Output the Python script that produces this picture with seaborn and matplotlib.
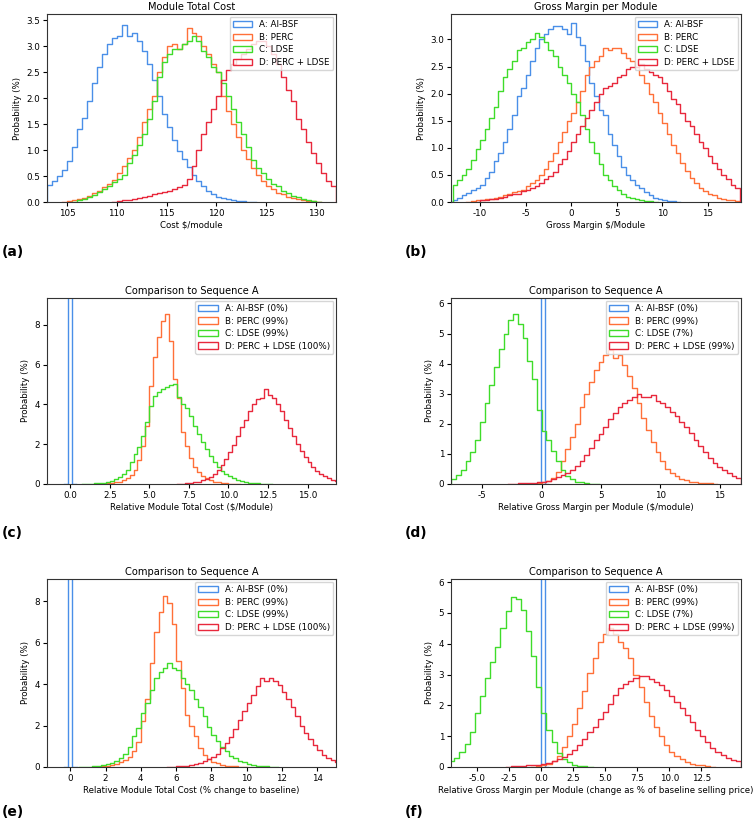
import matplotlib.patches as mpatches
import matplotlib.pyplot as plt
import numpy as np
import pandas as pd
import seaborn as sns

plt.rcParams['font.family'] = ['DejaVu Sans']

### HISTOGRAM DATA (probability % per bin) ###

labels_abs = ['A: Al-BSF', 'B: PERC', 'C: LDSE', 'D: PERC + LDSE']

# (a) module total cost, $/module
cost_width = 0.5
cost_a_start = 103.0
cost_a = [0.32, 0.40, 0.50, 0.62, 0.78, 1.05, 1.40, 1.62, 1.95, 2.30, 2.60, 2.85, 3.05, 3.15, 3.20, 3.40,
          3.20, 3.25, 3.10, 2.90, 2.65, 2.35, 2.05, 1.70, 1.45, 1.20, 0.98, 0.82, 0.68, 0.52, 0.40, 0.30,
          0.22, 0.15, 0.10, 0.07, 0.05, 0.03, 0.02, 0.01, 0.005]
cost_b_start = 105.0
cost_b = [0.02, 0.03, 0.05, 0.08, 0.12, 0.17, 0.22, 0.28, 0.35, 0.42, 0.55, 0.70, 0.85, 1.00, 1.25, 1.55,
          1.80, 2.05, 2.50, 2.80, 3.00, 3.05, 2.95, 3.05, 3.35, 3.25, 3.20, 3.00, 2.85, 2.65, 2.50, 2.05,
          1.75, 1.50, 1.25, 1.00, 0.82, 0.65, 0.52, 0.40, 0.30, 0.25, 0.18, 0.15, 0.10, 0.07, 0.05, 0.04,
          0.02, 0.01]
cost_c_start = 106.0
cost_c = [0.03, 0.06, 0.10, 0.14, 0.20, 0.25, 0.30, 0.38, 0.45, 0.52, 0.75, 0.90, 1.10, 1.30, 1.60, 1.95,
          2.40, 2.70, 2.85, 2.95, 2.95, 3.05, 3.10, 3.20, 3.10, 2.90, 2.80, 2.60, 2.50, 2.30, 2.05, 1.80,
          1.55, 1.30, 1.05, 0.80, 0.65, 0.55, 0.45, 0.35, 0.30, 0.22, 0.18, 0.12, 0.09, 0.06, 0.04, 0.02]
cost_d_start = 110.0
cost_d = [0.02, 0.03, 0.04, 0.05, 0.07, 0.09, 0.12, 0.15, 0.18, 0.20, 0.22, 0.25, 0.28, 0.32, 0.45, 0.70,
          1.00, 1.30, 1.55, 1.80, 2.05, 2.35, 2.55, 2.65, 2.75, 2.85, 2.95, 3.05, 3.10, 3.10, 3.00, 2.85,
          2.65, 2.40, 2.15, 1.95, 1.60, 1.40, 1.15, 0.95, 0.75, 0.55, 0.40, 0.30]

# (b) gross margin per module, $/module
margin_width = 0.5
margin_a_start = -13.0
margin_a = [0.04, 0.08, 0.12, 0.17, 0.22, 0.26, 0.32, 0.45, 0.55, 0.75, 0.90, 1.10, 1.35, 1.60, 1.95, 2.10,
            2.35, 2.60, 2.85, 3.00, 3.10, 3.20, 3.25, 3.25, 3.20, 3.10, 3.30, 3.05, 2.90, 2.60, 2.20, 1.95,
            1.70, 1.60, 1.25, 1.05, 0.85, 0.65, 0.50, 0.40, 0.32, 0.25, 0.18, 0.12, 0.08, 0.05, 0.03, 0.02,
            0.01]
margin_b_start = -11.0
margin_b = [0.02, 0.03, 0.04, 0.05, 0.06, 0.08, 0.10, 0.12, 0.15, 0.18, 0.20, 0.23, 0.30, 0.35, 0.40, 0.50,
            0.60, 0.75, 0.90, 1.10, 1.30, 1.50, 1.65, 1.85, 2.05, 2.35, 2.50, 2.60, 2.70, 2.85, 2.80, 2.85,
            2.85, 2.75, 2.65, 2.60, 2.50, 2.35, 2.20, 2.00, 1.85, 1.65, 1.45, 1.25, 1.05, 0.90, 0.72, 0.58,
            0.45, 0.35, 0.25, 0.20, 0.15, 0.12, 0.08, 0.06, 0.04, 0.03, 0.02]
margin_c_start = -13.0
margin_c = [0.32, 0.40, 0.50, 0.60, 0.78, 0.98, 1.15, 1.35, 1.55, 1.75, 2.05, 2.30, 2.45, 2.60, 2.80, 2.85,
            2.95, 3.00, 3.12, 3.05, 2.95, 2.80, 2.70, 2.50, 2.35, 2.20, 2.00, 1.85, 1.60, 1.35, 1.10, 0.90,
            0.70, 0.50, 0.40, 0.30, 0.22, 0.15, 0.10, 0.07, 0.05, 0.03, 0.02, 0.01]
margin_d_start = -10.0
margin_d = [0.03, 0.04, 0.05, 0.06, 0.08, 0.10, 0.12, 0.15, 0.15, 0.20, 0.22, 0.25, 0.30, 0.35, 0.42, 0.48,
            0.55, 0.70, 0.80, 0.95, 1.10, 1.25, 1.40, 1.55, 1.70, 1.85, 2.00, 2.10, 2.15, 2.20, 2.30, 2.35,
            2.45, 2.50, 2.50, 2.55, 2.45, 2.40, 2.35, 2.30, 2.20, 2.05, 1.90, 1.80, 1.65, 1.50, 1.40, 1.25,
            1.10, 1.00, 0.85, 0.72, 0.60, 0.50, 0.42, 0.32, 0.25]

labels_cost_rel = ['A: Al-BSF (0%)', 'B: PERC (99%)', 'C: LDSE (99%)', 'D: PERC + LDSE (100%)']
labels_margin_rel = ['A: Al-BSF (0%)', 'B: PERC (99%)', 'C: LDSE (7%)', 'D: PERC + LDSE (99%)']

# (c) relative module total cost, $/module
rcost_width = 0.25
rcost_a_start = -0.125
rcost_a = [100.0]
rcost_b_start = 2.0
rcost_b = [0.02, 0.03, 0.05, 0.08, 0.12, 0.20, 0.30, 0.45, 0.70, 1.20, 1.90, 2.90, 4.95, 6.40, 7.40, 8.20,
           8.55, 7.20, 5.30, 4.30, 2.60, 1.90, 1.30, 0.85, 0.60, 0.40, 0.28, 0.18, 0.12, 0.08, 0.05, 0.03,
           0.02, 0.01]
rcost_c_start = 1.0
rcost_c = [0.01, 0.02, 0.03, 0.05, 0.07, 0.10, 0.15, 0.25, 0.35, 0.50, 0.70, 1.10, 1.50, 1.85, 2.40, 3.10,
           3.90, 4.40, 4.60, 4.80, 4.90, 5.00, 5.05, 4.35, 4.00, 3.80, 3.40, 2.90, 2.50, 2.10, 1.75, 1.40,
           1.10, 0.85, 0.65, 0.50, 0.38, 0.28, 0.20, 0.14, 0.10, 0.07, 0.05, 0.03, 0.02, 0.01]
rcost_d_start = 7.0
rcost_d = [0.02, 0.03, 0.05, 0.08, 0.12, 0.18, 0.25, 0.35, 0.50, 0.70, 0.95, 1.25, 1.60, 1.95, 2.40, 2.85,
           3.20, 3.65, 4.00, 4.25, 4.30, 4.80, 4.45, 4.30, 4.00, 3.65, 3.20, 2.80, 2.40, 2.00, 1.65, 1.35,
           1.10, 0.85, 0.65, 0.50, 0.38, 0.28, 0.20, 0.14]

# (d) relative gross margin per module, $/module
rmargin_width = 0.4
rmargin_a_start = -0.05
rmargin_a = [100.0]
rmargin_b_start = -0.4
rmargin_b = [0.03, 0.05, 0.10, 0.20, 0.40, 0.75, 1.15, 1.55, 2.00, 2.55, 3.00, 3.40, 3.80, 4.05, 4.30, 4.45,
             4.20, 4.30, 3.95, 3.60, 3.20, 2.70, 2.20, 1.80, 1.40, 1.05, 0.75, 0.50, 0.35, 0.25, 0.17, 0.12,
             0.08, 0.05, 0.04, 0.03, 0.02]
rmargin_c_start = -7.6
rmargin_c = [0.18, 0.30, 0.48, 0.75, 1.05, 1.45, 2.05, 2.70, 3.30, 3.90, 4.50, 5.00, 5.45, 5.65, 5.30, 4.85,
             4.10, 3.50, 2.45, 1.75, 1.45, 1.10, 0.75, 0.45, 0.28, 0.15, 0.08, 0.05, 0.03, 0.01]
rmargin_d_start = -2.4
rmargin_d = [0.01, 0.02, 0.02, 0.03, 0.04, 0.05, 0.08, 0.10, 0.15, 0.22, 0.30, 0.38, 0.48, 0.60, 0.78, 0.98,
             1.20, 1.45, 1.65, 1.90, 2.15, 2.35, 2.55, 2.70, 2.80, 2.90, 3.00, 2.90, 2.90, 2.95, 2.75, 2.70,
             2.55, 2.40, 2.25, 2.05, 1.90, 1.70, 1.45, 1.25, 1.05, 0.85, 0.70, 0.55, 0.45, 0.35, 0.28, 0.20]

# (e) relative module total cost, % change to baseline
pcost_width = 0.25
pcost_a_start = -0.125
pcost_a = [100.0]
pcost_b_start = 1.5
pcost_b = [0.02, 0.04, 0.06, 0.10, 0.15, 0.25, 0.35, 0.50, 0.75, 1.20, 2.20, 3.30, 5.00, 6.50, 7.50, 8.25,
           7.90, 6.90, 5.10, 3.80, 2.50, 2.00, 1.50, 0.90, 0.60, 0.40, 0.25, 0.17, 0.10, 0.07, 0.04, 0.03,
           0.02]
pcost_c_start = 0.75
pcost_c = [0.01, 0.02, 0.04, 0.06, 0.09, 0.13, 0.20, 0.30, 0.45, 0.65, 0.95, 1.50, 1.90, 2.60, 3.10, 3.70,
           4.30, 4.60, 4.80, 5.00, 4.80, 4.70, 4.30, 4.00, 3.70, 3.30, 2.90, 2.45, 1.95, 1.55, 1.25, 0.95,
           0.75, 0.55, 0.42, 0.30, 0.22, 0.15, 0.10, 0.07, 0.05, 0.03, 0.02]
pcost_d_start = 5.75
pcost_d = [0.02, 0.03, 0.05, 0.07, 0.10, 0.15, 0.20, 0.28, 0.38, 0.50, 0.65, 0.90, 1.15, 1.45, 1.85, 2.25,
           2.70, 3.10, 3.50, 3.90, 4.30, 4.15, 4.30, 4.15, 3.95, 3.60, 3.30, 2.90, 2.45, 2.00, 1.65, 1.35,
           1.05, 0.80, 0.60, 0.45, 0.33, 0.24]

# (f) relative gross margin per module, change as % of baseline selling price
pmargin_width = 0.4
pmargin_a_start = -0.05
pmargin_a = [100.0]
pmargin_b_start = -0.4
pmargin_b = [0.03, 0.05, 0.10, 0.18, 0.35, 0.65, 1.00, 1.40, 1.90, 2.45, 3.05, 3.55, 4.05, 4.30, 4.50, 4.30,
             4.05, 3.85, 3.55, 3.00, 2.60, 2.10, 1.65, 1.30, 1.00, 0.70, 0.50, 0.35, 0.25, 0.17, 0.11, 0.07,
             0.05, 0.03]
pmargin_c_start = -7.2
pmargin_c = [0.18, 0.30, 0.50, 0.75, 1.15, 1.75, 2.30, 2.90, 3.40, 3.90, 4.50, 5.05, 5.50, 5.45, 5.10, 4.40,
             3.60, 2.60, 1.75, 1.20, 0.80, 0.45, 0.25, 0.15, 0.08, 0.04, 0.02]
pmargin_d_start = -2.4
pmargin_d = [0.02, 0.03, 0.04, 0.05, 0.06, 0.08, 0.10, 0.13, 0.18, 0.25, 0.32, 0.42, 0.55, 0.72, 0.92, 1.12,
             1.30, 1.55, 1.80, 2.05, 2.35, 2.55, 2.70, 2.80, 2.90, 2.95, 2.95, 2.85, 2.75, 2.65, 2.50, 2.30,
             2.10, 1.90, 1.70, 1.45, 1.20, 1.00, 0.80, 0.62, 0.50, 0.38, 0.30, 0.24, 0.20]

colors = ['#4a8fe8', '#ff7038', '#3fdc2a', '#e8283c']


def step_hist(ax, start, width, heights, color):
    # pad with empty bins so the outline drops to zero at both ends
    h = np.r_[0.0, heights, 0.0]
    edges = start - width + width * np.arange(len(h) + 1)
    df = pd.DataFrame({'x': edges[:-1] + width / 2, 'w': h})
    sns.histplot(data=df, x='x', weights='w', bins=edges.tolist(), element='step', fill=False,
                 color=color, linewidth=1.0, ax=ax)


def finish(ax, title, xlabel, labels, xlim, ylim, xticks, yticks, fmt):
    ax.set_title(title, fontsize=7.1, pad=3)
    ax.set_xlabel(xlabel, fontsize=6.2, labelpad=2)
    ax.set_ylabel('Probability (%)', fontsize=6.2, labelpad=3)
    ax.set_xlim(*xlim)
    ax.set_ylim(*ylim)
    ax.set_xticks(xticks)
    ax.set_yticks(yticks)
    ax.set_xticklabels([fmt[0].format(t) for t in xticks])
    ax.set_yticklabels([fmt[1].format(t) for t in yticks])
    ax.tick_params(labelsize=6.3, length=3, width=0.8, pad=2)
    for s in ax.spines.values():
        s.set_linewidth(0.8)
        s.set_color('#333333')
    handles = [mpatches.Patch(facecolor='none', edgecolor=c, linewidth=1.0, label=l)
               for c, l in zip(colors, labels)]
    ax.legend(handles=handles, loc='upper right', fontsize=6.3, framealpha=0.8,
              handlelength=2.2, handletextpad=0.8, labelspacing=0.4, borderpad=0.4,
              borderaxespad=0.3)


W, H = 756, 827
fig = plt.figure(figsize=(W / 100, H / 100), dpi=100)


def axes_px(left, top, right, bottom):
    return fig.add_axes([left / W, 1 - bottom / H, (right - left) / W, (bottom - top) / H])


ax_a = axes_px(47, 14, 336, 202)
ax_b = axes_px(451, 14, 741, 202)
ax_c = axes_px(47, 298, 336, 484)
ax_d = axes_px(451, 298, 741, 484)
ax_e = axes_px(47, 579, 336, 767)
ax_f = axes_px(451, 579, 741, 767)

panels = [
    (ax_a, cost_width, [(cost_a_start, cost_a), (cost_b_start, cost_b), (cost_c_start, cost_c), (cost_d_start, cost_d)]),
    (ax_b, margin_width, [(margin_a_start, margin_a), (margin_b_start, margin_b), (margin_c_start, margin_c), (margin_d_start, margin_d)]),
    (ax_c, rcost_width, [(rcost_a_start, rcost_a), (rcost_b_start, rcost_b), (rcost_c_start, rcost_c), (rcost_d_start, rcost_d)]),
    (ax_d, rmargin_width, [(rmargin_a_start, rmargin_a), (rmargin_b_start, rmargin_b), (rmargin_c_start, rmargin_c), (rmargin_d_start, rmargin_d)]),
    (ax_e, pcost_width, [(pcost_a_start, pcost_a), (pcost_b_start, pcost_b), (pcost_c_start, pcost_c), (pcost_d_start, pcost_d)]),
    (ax_f, pmargin_width, [(pmargin_a_start, pmargin_a), (pmargin_b_start, pmargin_b), (pmargin_c_start, pmargin_c), (pmargin_d_start, pmargin_d)]),
]

for ax, width, series in panels:
    for (start, heights), c in zip(series, colors):
        # the reference series of the comparison panels is a single narrow bin at zero
        w = width if len(heights) > 1 else min(width, 0.3)
        step_hist(ax, start, w, heights, c)

finish(ax_a, 'Module Total Cost', 'Cost $/module', labels_abs,
       (103, 132), (0, 3.62), [105, 110, 115, 120, 125, 130], np.arange(0, 3.51, 0.5), ('{:.0f}', '{:.1f}'))
finish(ax_b, 'Gross Margin per Module', 'Gross Margin $/Module', labels_abs,
       (-13.2, 18.65), (0, 3.47), [-10, -5, 0, 5, 10, 15], np.arange(0, 3.01, 0.5), ('{:.0f}', '{:.1f}'))
finish(ax_c, 'Comparison to Sequence A', 'Relative Module Total Cost ($/Module)', labels_cost_rel,
       (-1.47, 16.8), (0, 9.35), np.arange(0, 15.1, 2.5), [0, 2, 4, 6, 8], ('{:.1f}', '{:.0f}'))
finish(ax_d, 'Comparison to Sequence A', 'Relative Gross Margin per Module ($/module)', labels_margin_rel,
       (-7.63, 16.8), (0, 6.18), [-5, 0, 5, 10, 15], [0, 1, 2, 3, 4, 5, 6], ('{:.0f}', '{:.0f}'))
finish(ax_e, 'Comparison to Sequence A', 'Relative Module Total Cost (% change to baseline)', labels_cost_rel,
       (-1.32, 15.06), (0, 9.08), np.arange(0, 14.1, 2), [0, 2, 4, 6, 8], ('{:.0f}', '{:.0f}'))
finish(ax_f, 'Comparison to Sequence A',
       'Relative Gross Margin per Module (change as % of baseline selling price)', labels_margin_rel,
       (-7.06, 15.6), (0, 6.1), np.arange(-5, 12.6, 2.5), [0, 1, 2, 3, 4, 5, 6], ('{:.1f}', '{:.0f}'))

for lab, x, y in [('(a)', 2, 252), ('(b)', 405, 252), ('(c)', 2, 533), ('(d)', 405, 533),
                  ('(e)', 2, 812), ('(f)', 405, 812)]:
    fig.text(x / W, 1 - y / H, lab, fontsize=10, fontweight='bold', va='center', ha='left')

fig.savefig('out.png', dpi=100)
